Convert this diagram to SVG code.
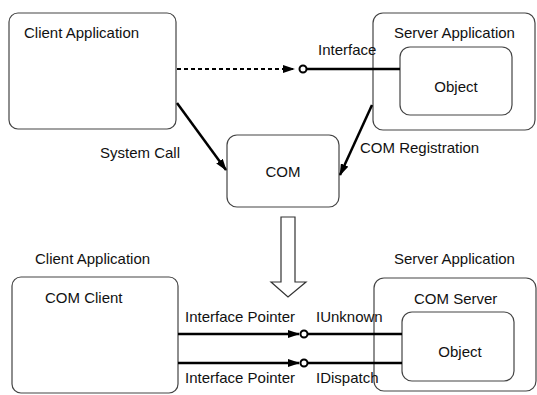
<svg xmlns="http://www.w3.org/2000/svg" width="537" height="395" viewBox="0 0 537 395">
<style>
.box{fill:none;stroke:#444;stroke-width:1.2}
.t{font-family:"Liberation Sans",Arial,sans-serif;font-size:15px;fill:#111}
.c{text-anchor:middle}
.ln{stroke:#000;stroke-width:2.5;fill:none}
.dash{stroke:#000;stroke-width:2;stroke-dasharray:4,3;fill:none}
.ring{fill:#fff;stroke:#000;stroke-width:2}
</style>
<defs>
<marker id="ah" markerWidth="12" markerHeight="8" refX="11" refY="4" orient="auto" markerUnits="userSpaceOnUse">
<path d="M0,0 L12,4 L0,8 Z" fill="#000"/>
</marker>
</defs>
<rect width="537" height="395" fill="#fff"/>
<g id="client-top">
<rect class="box" x="9" y="13" width="167" height="116" rx="9"/>
<text class="t" x="24" y="38">Client Application</text>
</g>
<g id="server-top">
<rect class="box" x="373" y="13" width="162" height="117" rx="10"/>
<text class="t" x="394" y="38">Server Application</text>
</g>
<g id="object-top">
<rect class="box" x="400" y="47" width="112" height="68" rx="10"/>
<text class="t c" x="456" y="92">Object</text>
</g>
<g id="com">
<rect class="box" x="227" y="135" width="112" height="72" rx="10"/>
<text class="t c" x="283" y="177">COM</text>
</g>
<g id="client-bottom">
<text class="t" x="35" y="264">Client Application</text>
<rect class="box" x="12" y="277" width="166" height="116" rx="9"/>
<text class="t" x="45" y="303">COM Client</text>
</g>
<g id="server-bottom">
<text class="t" x="394" y="264">Server Application</text>
<rect class="box" x="374" y="278" width="162" height="113" rx="10"/>
<text class="t" x="414" y="304">COM Server</text>
</g>
<g id="object-bottom">
<rect class="box" x="402" y="312" width="112" height="69" rx="10"/>
<text class="t c" x="460" y="357">Object</text>
</g>
<g id="connectors">
<line class="dash" x1="177" y1="69" x2="294" y2="69" marker-end="url(#ah)"/>
<line class="ln" x1="307" y1="69" x2="400" y2="69"/>
<circle class="ring" cx="303" cy="69" r="3.5"/>
<line class="ln" x1="177" y1="103" x2="226" y2="170" marker-end="url(#ah)"/>
<line class="ln" x1="372" y1="105" x2="340" y2="175" marker-end="url(#ah)"/>
<path d="M281,217 L295,217 L295,282 L306,282 L288,297 L271,282 L281,282 Z" fill="#fff" stroke="#333" stroke-width="1.2"/>
<line class="ln" x1="178" y1="334" x2="299" y2="334" marker-end="url(#ah)"/>
<line class="ln" x1="308" y1="334" x2="402" y2="334"/>
<circle class="ring" cx="304" cy="334" r="3.5"/>
<line class="ln" x1="178" y1="363" x2="299" y2="363" marker-end="url(#ah)"/>
<line class="ln" x1="308" y1="363" x2="402" y2="363"/>
<circle class="ring" cx="304" cy="363" r="3.5"/>
</g>
<g id="labels">
<text class="t" x="318" y="55">Interface</text>
<text class="t" x="100" y="158">System Call</text>
<text class="t" x="360" y="153">COM Registration</text>
<text class="t" x="185" y="322">Interface Pointer</text>
<text class="t" x="316" y="322">IUnknown</text>
<text class="t" x="185" y="383">Interface Pointer</text>
<text class="t" x="316" y="383">IDispatch</text>
</g>
</svg>
